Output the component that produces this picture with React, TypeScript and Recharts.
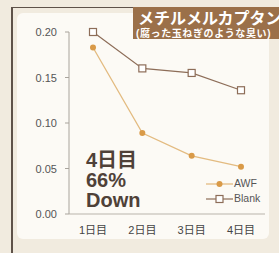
import { Line, LineChart, XAxis, YAxis } from "recharts";

const days = ["1日目", "2日目", "3日目", "4日目"];
const awf = [0.183, 0.089, 0.064, 0.052];
const blank = [0.2, 0.16, 0.155, 0.136];
const yTicks = [0, 0.05, 0.1, 0.15, 0.2];

const data = days.map((day, i) => ({ day, awf: awf[i], blank: blank[i] }));

const AWF_LINE = "#e3bb80";
const AWF_DOT = "#d99a48";
const BLANK = "#8d6d58";
const JP = "'Liberation Sans', 'Noto Sans CJK JP', sans-serif";

const SquareDot = (props: any) => {
	const { cx, cy } = props;
	if (cx == null || cy == null) return null;
	return <rect x={cx - 3.5} y={cy - 3.5} width={7} height={7} fill="#fff" stroke={BLANK} strokeWidth={1.2} />;
};

const XTick = (props: any) => {
	const { x, y, payload } = props;
	return (
		<text x={x} y={y + 10} textAnchor="middle" fill="#444" fontSize={11} fontFamily={JP}>
			{payload.value}
		</text>
	);
};

const YTick = (props: any) => {
	const { x, y, payload } = props;
	return (
		<text x={x} y={y + 4} textAnchor="end" fill="#555" fontSize={11} fontFamily={JP}>
			{Number(payload.value).toFixed(2)}
		</text>
	);
};

const LegendBox = () => (
	<div style={{ fontFamily: JP, fontSize: 10.5, color: "#555", lineHeight: "15px" }}>
		<div style={{ display: "flex", alignItems: "center" }}>
			<svg width={28} height={10}>
				<line x1={0} y1={5} x2={27} y2={5} stroke={AWF_LINE} strokeWidth={1.3} />
				<circle cx={13.5} cy={5} r={3} fill={AWF_DOT} />
			</svg>
			<span>AWF</span>
		</div>
		<div style={{ display: "flex", alignItems: "center" }}>
			<svg width={28} height={10}>
				<line x1={0} y1={5} x2={27} y2={5} stroke={BLANK} strokeWidth={1.2} />
				<rect x={10} y={1.5} width={7} height={7} fill="#fff" stroke={BLANK} strokeWidth={1.2} />
			</svg>
			<span>Blank</span>
		</div>
	</div>
);

export default function App() {
	return (
		<div style={{ position: "relative", width: 279, height: 253, background: "#f1ebdf", overflow: "hidden" }}>
			<style>{`body{margin:0}`}</style>
			<div
				style={{
					position: "absolute",
					left: 11,
					top: 7,
					width: 280,
					height: 260,
					borderLeft: "2px solid #5e5249",
					borderTop: "1.5px solid #5e5249",
				}}
			/>
			<div
				style={{
					position: "absolute",
					left: 17,
					top: 13,
					width: 252,
					height: 226,
					background: "#fcfaf5",
					borderRadius: 6,
				}}
			/>
			<div
				style={{
					position: "absolute",
					left: 133,
					top: 7,
					width: 160,
					height: 32,
					background: "#9b7049",
					color: "#fff",
					fontFamily: JP,
					fontWeight: 700,
					whiteSpace: "nowrap",
				}}
			>
				<div style={{ position: "absolute", left: 5, top: 2, fontSize: 16, lineHeight: "20px" }}>メチルメルカプタン</div>
				<div style={{ position: "absolute", left: 3, top: 21, fontSize: 10, lineHeight: "12px", letterSpacing: 0.6 }}>
					(腐った玉ねぎのような臭い)
				</div>
			</div>
			<div style={{ position: "absolute", left: 0, top: 0 }}>
				<LineChart width={279} height={253} data={data} margin={{ top: 32, right: 14, bottom: 9, left: 0 }}>
					<XAxis
						dataKey="day"
						padding={{ left: 24, right: 24 }}
						height={30}
						tickLine={false}
						tickMargin={4}
						stroke="#b9b4ab"
						tick={<XTick />}
					/>
					<YAxis
						width={69}
						domain={[0, 0.2]}
						ticks={yTicks}
						tickSize={4}
						tickMargin={8}
						stroke="#a9a49c"
						tick={<YTick />}
					/>
					<Line
						dataKey="awf"
						stroke={AWF_LINE}
						strokeWidth={1.3}
						dot={{ r: 3, fill: AWF_DOT, stroke: AWF_DOT, strokeWidth: 0 }}
						activeDot={false}
						isAnimationActive={false}
					/>
					<Line
						dataKey="blank"
						stroke={BLANK}
						strokeWidth={1.2}
						dot={<SquareDot />}
						activeDot={false}
						isAnimationActive={false}
					/>
				</LineChart>
			</div>
			<div style={{ position: "absolute", left: 206, top: 176 }}>
				<LegendBox />
			</div>
			<div
				style={{
					position: "absolute",
					left: 86,
					top: 150,
					fontFamily: JP,
					fontWeight: 700,
					fontSize: 20,
					lineHeight: "20px",
					color: "#4f4138",
				}}
			>
				<div>4日目</div>
				<div>66%</div>
				<div>Down</div>
			</div>
		</div>
	);
}
